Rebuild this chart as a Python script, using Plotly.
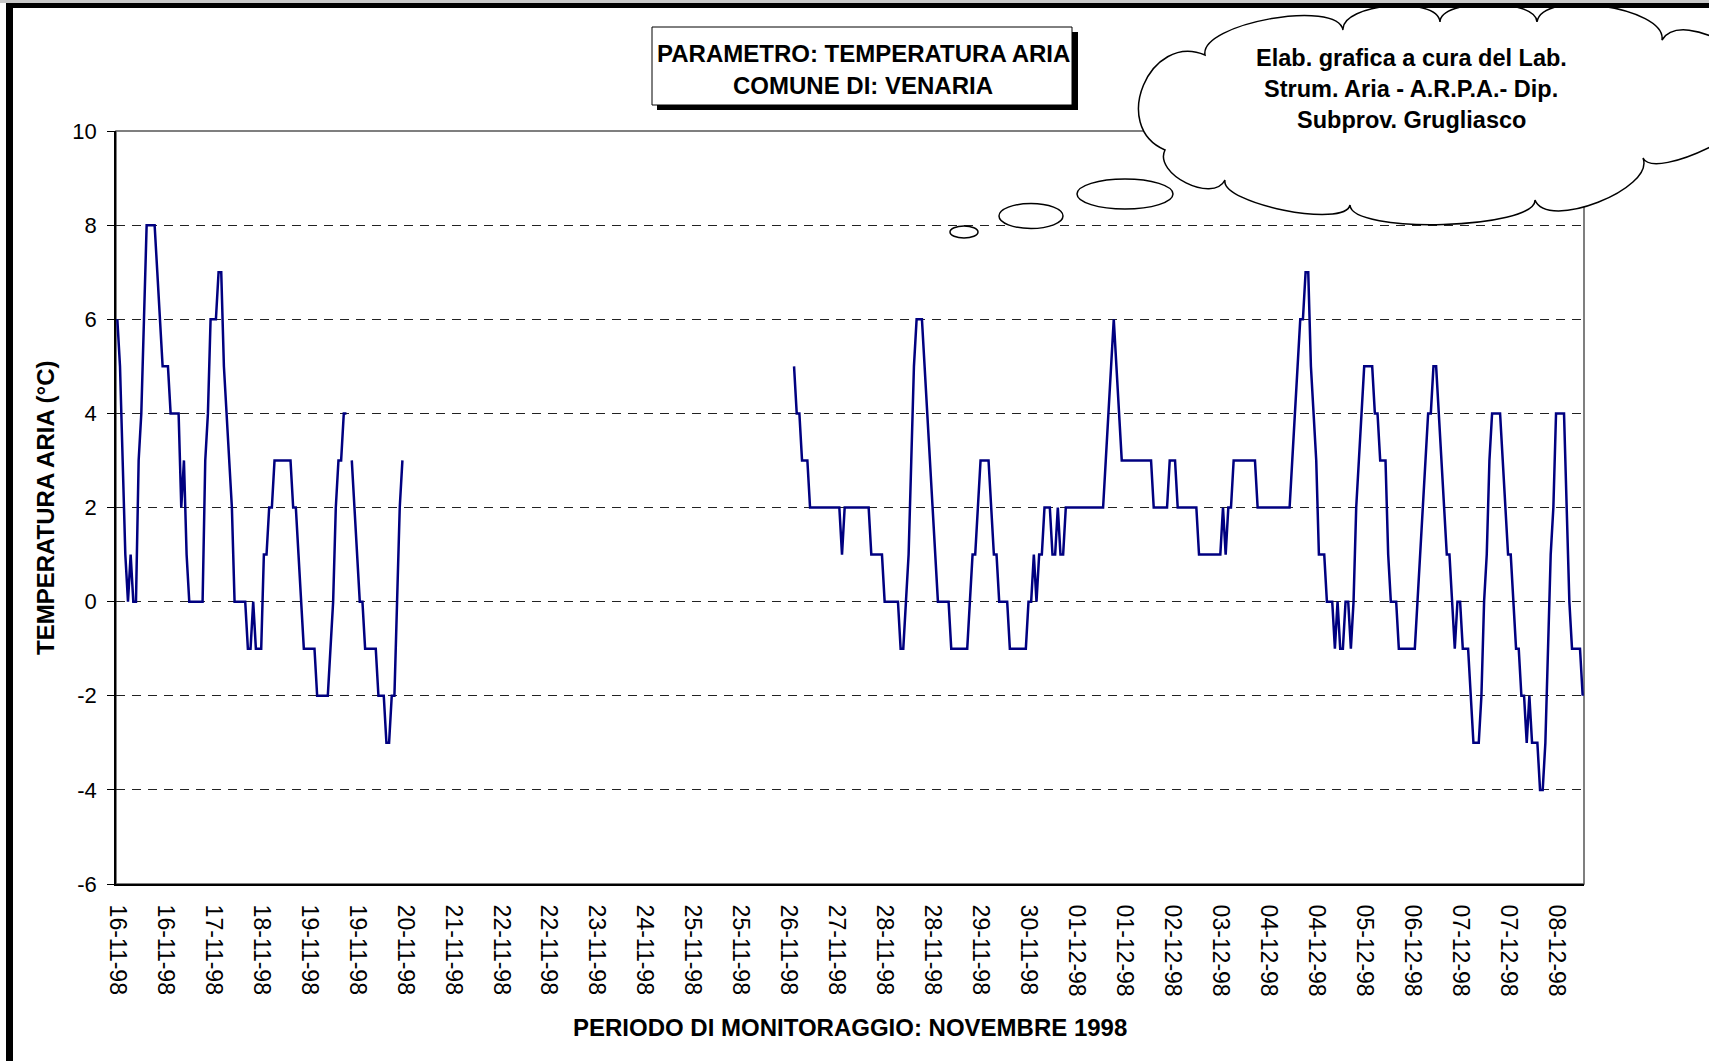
import math
import plotly.graph_objects as go

# ---------------- data ----------------
tick_labels = ["16-11-98", "16-11-98", "17-11-98", "18-11-98", "19-11-98", "19-11-98",
               "20-11-98", "21-11-98", "22-11-98", "22-11-98", "23-11-98", "24-11-98",
               "25-11-98", "25-11-98", "26-11-98", "27-11-98", "28-11-98", "28-11-98",
               "29-11-98", "30-11-98", "01-12-98", "01-12-98", "02-12-98", "03-12-98",
               "04-12-98", "04-12-98", "05-12-98", "06-12-98", "07-12-98", "07-12-98",
               "08-12-98"]
label_step_hours = 18
n_hours = 551

y_tick_values = [-6, -4, -2, 0, 2, 4, 6, 8, 10]
y_tick_labels = ["-6", "-4", "-2", "0", "2", "4", "6", "8", "10"]

# hourly air temperature (degC), first recorded block
seg1_start = 0
temp_seg1 = [6, 5, 3, 1, 0, 1, 0, 0, 3, 4,
             6, 8, 8, 8, 8, 7, 6, 5, 5, 5,
             4, 4, 4, 4, 2, 3, 1, 0, 0, 0,
             0, 0, 0, 3, 4, 6, 6, 6, 7, 7,
             5, 4, 3, 2, 0, 0, 0, 0, 0, -1,
             -1, 0, -1, -1, -1, 1, 1, 2, 2, 3,
             3, 3, 3, 3, 3, 3, 2, 2, 1, 0,
             -1, -1, -1, -1, -1, -2, -2, -2, -2, -2,
             -1, 0, 2, 3, 3, 4, 4, None, 3, 2,
             1, 0, 0, -1, -1, -1, -1, -1, -2, -2,
             -2, -3, -3, -2, -2, 0, 2, 3]

# second recorded block
seg2_start = 254
temp_seg2 = [5, 4, 4, 3, 3, 3, 2, 2, 2, 2,
             2, 2, 2, 2, 2, 2, 2, 2, 1, 2,
             2, 2, 2, 2, 2, 2, 2, 2, 2, 1,
             1, 1, 1, 1, 0, 0, 0, 0, 0, 0,
             -1, -1, 0, 1, 3, 5, 6, 6, 6, 5,
             4, 3, 2, 1, 0, 0, 0, 0, 0, -1,
             -1, -1, -1, -1, -1, -1, 0, 1, 1, 2,
             3, 3, 3, 3, 2, 1, 1, 0, 0, 0,
             0, -1, -1, -1, -1, -1, -1, -1, 0, 0,
             1, 0, 1, 1, 2, 2, 2, 1, 1, 2,
             1, 1, 2, 2, 2, 2, 2, 2, 2, 2,
             2, 2, 2, 2, 2, 2, 2, 3, 4, 5,
             6, 5, 4, 3, 3, 3, 3, 3, 3, 3,
             3, 3, 3, 3, 3, 2, 2, 2, 2, 2,
             2, 3, 3, 3, 2, 2, 2, 2, 2, 2,
             2, 2, 1, 1, 1, 1, 1, 1, 1, 1,
             1, 2, 1, 2, 2, 3, 3, 3, 3, 3,
             3, 3, 3, 3, 2, 2, 2, 2, 2, 2,
             2, 2, 2, 2, 2, 2, 2, 3, 4, 5,
             6, 6, 7, 7, 5, 4, 3, 1, 1, 1,
             0, 0, 0, -1, 0, -1, -1, 0, 0, -1,
             0, 2, 3, 4, 5, 5, 5, 5, 4, 4,
             3, 3, 3, 1, 0, 0, 0, -1, -1, -1,
             -1, -1, -1, -1, 0, 1, 2, 3, 4, 4,
             5, 5, 4, 3, 2, 1, 1, 0, -1, 0,
             0, -1, -1, -1, -2, -3, -3, -3, -2, 0,
             1, 3, 4, 4, 4, 4, 3, 2, 1, 1,
             0, -1, -1, -2, -2, -3, -2, -3, -3, -3,
             -4, -4, -3, -1, 1, 2, 4, 4, 4, 4,
             2, 0, -1, -1, -1, -1, -2]

title_lines = ["PARAMETRO: TEMPERATURA ARIA", "COMUNE DI: VENARIA"]
note_lines = ["Elab. grafica a cura del Lab.", "Strum. Aria - A.R.P.A.- Dip.", "Subprov. Grugliasco"]
x_title = "PERIODO DI MONITORAGGIO: NOVEMBRE 1998"
y_title = "TEMPERATURA ARIA (°C)"

# ---------------- build series ----------------
temperature = [None] * n_hours
for i, v in enumerate(temp_seg1):
    temperature[seg1_start + i] = v
for i, v in enumerate(temp_seg2):
    temperature[seg2_start + i] = v
hours = list(range(n_hours))
tick_positions = [label_step_hours * i for i in range(len(tick_labels))]

# ---------------- geometry helpers ----------------
W, H = 1709, 1061
PL, PR, PT, PB = 116, 1584, 131, 884
FONT = "Liberation Sans, Arial, sans-serif"


def px(x):
    return (x - PL) / (PR - PL)


def py(y):
    return (PB - y) / (PB - PT)


def rect(x0, y0, x1, y1, fill=None, line_color=None, line_width=0, layer="above"):
    return dict(type="rect", xref="paper", yref="paper",
                x0=px(x0), x1=px(x1), y0=py(y1), y1=py(y0),
                fillcolor=fill if fill else "rgba(0,0,0,0)",
                line=dict(color=line_color if line_color else "rgba(0,0,0,0)", width=line_width),
                layer=layer)


def ellipse(cx, cy, rx, ry):
    return dict(type="circle", xref="paper", yref="paper",
                x0=px(cx - rx), x1=px(cx + rx), y0=py(cy + ry), y1=py(cy - ry),
                fillcolor="white", line=dict(color="black", width=1.5), layer="above")


def cloud_path(anchors, bulges):
    parts = ["M%.5f,%.5f" % (px(anchors[0][0]), py(anchors[0][1]))]
    n = len(anchors)
    for i in range(n):
        sx, sy = anchors[i]
        ex, ey = anchors[(i + 1) % n]
        dx, dy = ex - sx, ey - sy
        L = math.hypot(dx, dy)
        nx, ny = dy / L, -dx / L
        h = bulges[i] * 4.0 / 3.0
        c1 = (sx + nx * h, sy + ny * h)
        c2 = (ex + nx * h, ey + ny * h)
        parts.append("C%.5f,%.5f %.5f,%.5f %.5f,%.5f" % (
            px(c1[0]), py(c1[1]), px(c2[0]), py(c2[1]), px(ex), py(ey)))
    parts.append("Z")
    return " ".join(parts)


cloud_anchors = [(1165, 150), (1205, 55), (1343, 30), (1440, 22), (1537, 22), (1662, 40),
                 (1760, 100), (1643, 158), (1535, 200), (1350, 205), (1225, 180)]
cloud_bulges = [45, 24, 20, 18, 25, 30, 20, 25, 22, 18, 20]

# ---------------- figure ----------------
fig = go.Figure()
fig.add_trace(go.Scatter(x=hours, y=temperature, mode="lines",
                         line=dict(color="#000080", width=2.5),
                         connectgaps=False, showlegend=False, hoverinfo="skip"))

shapes = [
    dict(type="rect", xref="paper", yref="paper", x0=0, x1=1, y0=0, y1=1,
         line=dict(color="#555555", width=1.5), fillcolor="rgba(0,0,0,0)", layer="below"),
    rect(657, 32, 1078, 110, fill="black"),
    rect(652, 27, 1072, 105, fill="white", line_color="black", line_width=1),
    ellipse(964, 232, 14, 6),
    ellipse(1031, 216, 32, 12.5),
    ellipse(1125, 194, 48, 15),
    dict(type="path", xref="paper", yref="paper", path=cloud_path(cloud_anchors, cloud_bulges),
         fillcolor="white", line=dict(color="black", width=1.5), layer="above"),
    rect(0, 0, W, 3, fill="#c8c8c8"),
    rect(6, 3, W, 8, fill="black"),
    rect(6, 3, 13, H, fill="black"),
]

annotations = []
for txt, yy in zip(title_lines, [53, 85]):
    annotations.append(dict(text="<b>%s</b>" % txt, x=px(863), y=py(yy), xref="paper", yref="paper",
                            xanchor="center", yanchor="middle", showarrow=False,
                            font=dict(family=FONT, size=24, color="black")))
for txt, yy in zip(note_lines, [58, 89, 120]):
    annotations.append(dict(text="<b>%s</b>" % txt, x=px(1411), y=py(yy), xref="paper", yref="paper",
                            xanchor="center", yanchor="middle", showarrow=False,
                            font=dict(family=FONT, size=23.5, color="black")))
annotations.append(dict(text="<b>%s</b>" % x_title, x=px(850), y=py(1027), xref="paper", yref="paper",
                        xanchor="center", yanchor="middle", showarrow=False,
                        font=dict(family=FONT, size=24, color="black")))
annotations.append(dict(text="<b>%s</b>" % y_title, x=px(45), y=py(508), xref="paper", yref="paper",
                        xanchor="center", yanchor="middle", showarrow=False, textangle=-90,
                        font=dict(family=FONT, size=24, color="black")))

fig.update_layout(
    width=W, height=H,
    margin=dict(l=PL, r=W - PR, t=PT, b=H - PB, pad=0),
    paper_bgcolor="white", plot_bgcolor="white",
    shapes=shapes, annotations=annotations,
    xaxis=dict(range=[-0.5, n_hours - 0.5], tickmode="array", tickvals=tick_positions,
               ticktext=tick_labels, tickangle=90, ticks="", showgrid=False, zeroline=False,
               showline=True, linecolor="black", linewidth=2, ticklabelstandoff=14,
               tickfont=dict(family=FONT, size=23, color="black")),
    yaxis=dict(range=[-6, 10], tickmode="array", tickvals=y_tick_values, ticktext=y_tick_labels,
               showgrid=True, gridcolor="#222222", gridwidth=1, griddash="9px,7px", zeroline=False,
               ticks="outside", ticklen=7, tickcolor="black", tickwidth=1,
               showline=True, linecolor="black", linewidth=1.5, ticklabelstandoff=6,
               tickfont=dict(family=FONT, size=22, color="black")),
)

fig.write_html("out.html", config={"displayModeBar": False},
               post_script="document.body.style.margin='0';document.body.style.overflow='hidden';")
